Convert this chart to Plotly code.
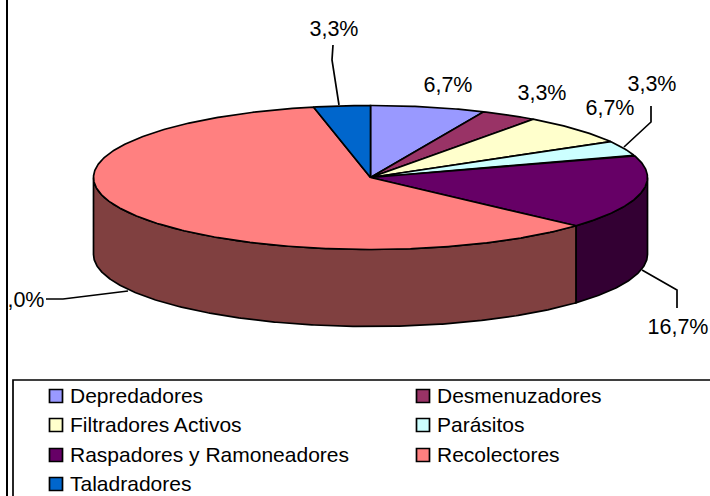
import numpy as np
import plotly.graph_objects as go

categories = ["Depredadores", "Desmenuzadores", "Filtradores Activos", "Parásitos",
              "Raspadores y Ramoneadores", "Recolectores", "Taladradores"]
values = [6.7, 3.3, 6.7, 3.3, 16.7, 60.0, 3.3]
top_colors = ["#9999FF", "#993366", "#FFFFCC", "#CCFFFF", "#660066", "#FF8080", "#0066CC"]
side_colors = ["#4D4D80", "#4D1A33", "#808066", "#668080", "#330033", "#804040", "#003366"]

W, H = 710, 496
CX, CY, A, B, DEPTH = 370.5, 177.5, 277, 72, 77
LW = 1.7
FONT = "Liberation Sans, Arial, sans-serif"

label_pos = [(448, 86.5), (542, 94.5), (610, 109.5), (652, 85.5), (678, 328.5), (14, 301.5), (334, 30.5)]
leaders = [None, None, None,
           [(651, 106), (651, 122), (624, 147)],
           [(677, 308), (677, 290), (642, 270)],
           [(46, 299), (63, 299), (128, 291)],
           [(333, 45), (332, 60), (339, 105)]]
legend_cols = [56, 423]
legend_rows = [396, 425, 455, 484]
LEGEND_TEXT_GAP = 14


def arc(t1, t2):
    t = np.radians(np.linspace(t1, t2, max(3, int(abs(t2 - t1)) * 2)))
    return CX + A * np.sin(t), CY - B * np.cos(t)


fig = go.Figure()
total = sum(values)
edges = np.concatenate([[0], np.cumsum(values)]) / total * 360

# side walls
for i, name in enumerate(categories):
    t1, t2 = max(edges[i], 90), min(edges[i + 1], 270)
    if t2 <= t1:
        continue
    x, y = arc(t1, t2)
    fig.add_trace(go.Scatter(
        x=np.concatenate([x, x[::-1], x[:1]]),
        y=np.concatenate([y, y[::-1] + DEPTH, y[:1]]),
        mode="lines", fill="toself", fillcolor=side_colors[i],
        line=dict(color="black", width=LW), hoverinfo="skip", showlegend=False))

# top faces
for i, name in enumerate(categories):
    x, y = arc(edges[i], edges[i + 1])
    fig.add_trace(go.Scatter(
        x=np.concatenate([[CX], x, [CX]]),
        y=np.concatenate([[CY], y, [CY]]),
        mode="lines", fill="toself", fillcolor=top_colors[i],
        line=dict(color="black", width=LW), name=name, showlegend=False, hoverinfo="name+text",
        text=f"{values[i]:.1f}%"))

# leader lines
for pts in leaders:
    if pts:
        fig.add_trace(go.Scatter(x=[p[0] for p in pts], y=[p[1] for p in pts], mode="lines",
                                 line=dict(color="black", width=LW), hoverinfo="skip", showlegend=False))

# data labels
fig.add_trace(go.Scatter(
    x=[p[0] for p in label_pos], y=[p[1] for p in label_pos], mode="text",
    text=[f"{v:.1f}%".replace(".", ",") for v in values], textposition="middle center",
    textfont=dict(family=FONT, size=21.5, color="black"), hoverinfo="skip", showlegend=False))

# legend
for i, name in enumerate(categories):
    lx, ly = legend_cols[i % 2], legend_rows[i // 2]
    fig.add_trace(go.Scatter(
        x=[lx], y=[ly], mode="markers",
        marker=dict(symbol="square", size=13, color=top_colors[i], line=dict(color="black", width=1.7)),
        hoverinfo="skip", showlegend=False))
    fig.add_trace(go.Scatter(
        x=[lx + LEGEND_TEXT_GAP], y=[ly + 1.5], mode="text", text=[name], textposition="middle right",
        textfont=dict(family=FONT, size=21, color="black"), hoverinfo="skip", showlegend=False))

fig.update_layout(
    width=W, height=H, margin=dict(l=8, r=0, t=0, b=0), autosize=False,
    paper_bgcolor="white", plot_bgcolor="white", showlegend=False,
    xaxis=dict(range=[8, W], visible=False, fixedrange=True),
    yaxis=dict(range=[H, 0], showgrid=False, zeroline=False, showticklabels=False, ticks="",
               showline=True, linecolor="black", linewidth=2, fixedrange=True),
    shapes=[dict(type="rect", xref="x", yref="y", x0=13, y0=380, x1=W + 5, y1=H + 5,
                 line=dict(color="black", width=1.7), layer="below")],
)
fig.write_html("out.html", post_script="document.body.style.margin='0';", config={"displayModeBar": False})
